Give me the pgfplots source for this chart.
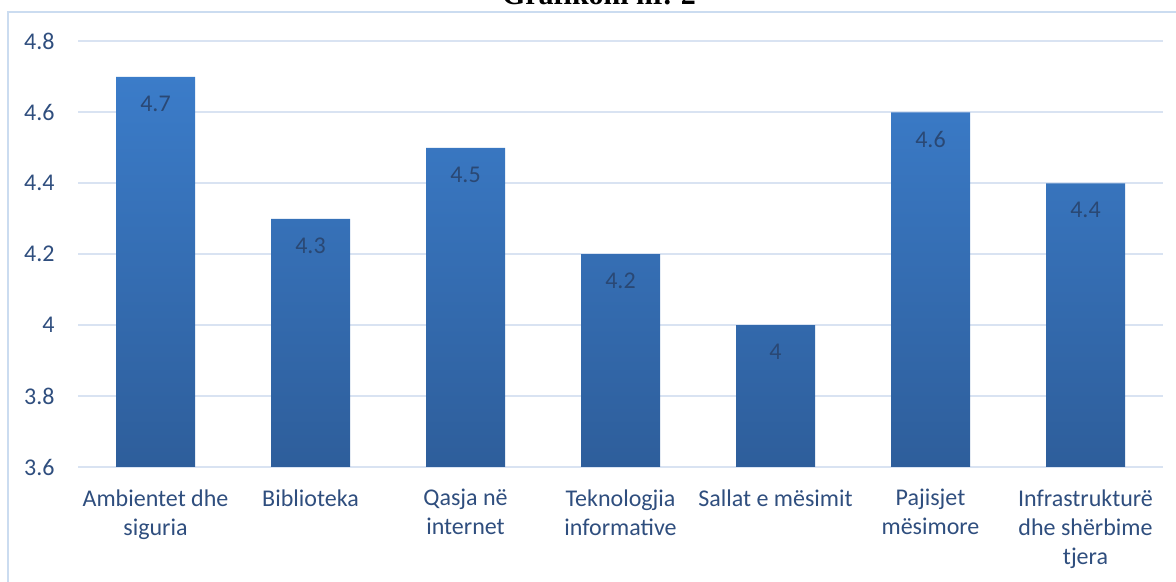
\documentclass[border=0pt]{standalone}
\usepackage{pgfplots}
\pgfplotsset{compat=1.18}
\usepackage{fontspec}
\setmainfont{Carlito}
\newfontfamily\titlefont{Liberation Serif}

\definecolor{tickblue}{HTML}{2F4E7E}
\definecolor{gridblue}{HTML}{D9E3F2}
\definecolor{bartop}{HTML}{3B7CC9}
\definecolor{barbot}{HTML}{2E5E9B}
\definecolor{framecol}{HTML}{CBDCF0}
\definecolor{valcol}{HTML}{2A4874}

\pgfplotsset{/pgf/number format/assume math mode=true}

\begin{document}
\begin{tikzpicture}
\begin{axis}[
    at={(39pt,57.5pt)}, anchor=south west,
    scale only axis,
    width=542.5pt, height=212.75pt,
    ybar, bar width=39.5pt,
    xmin=-0.5, xmax=6.5,
    ymin=3.6, ymax=4.8,
    ytick={3.6,3.8,4,4.2,4.4,4.6,4.8},
    xtick={0,1,2,3,4,5,6},
    xticklabels={Ambientet dhe\\siguria, Biblioteka, Qasja në\\internet,
        Teknologjia\\informative, Sallat e mësimit, Pajisjet\\mësimore,
        Infrastrukturë\\dhe shërbime\\tjera},
    axis line style={draw=none},
    major tick length=0pt,
    ymajorgrids,
    grid style={gridblue, line width=1pt},
    tick label style={font=\fontsize{12}{14.5}\selectfont, text=tickblue},
    yticklabel style={anchor=east, inner sep=0pt, xshift=-11.5pt},
    xticklabel style={align=center, anchor=north, inner sep=0pt, yshift=-11pt},
    nodes near coords,
    every node near coord/.append style={anchor=center, yshift=-13.5pt,
        font=\fontsize{12}{14.5}\selectfont, text=valcol},
]
\addplot[draw=none, top color=bartop, bottom color=barbot] coordinates {
    (0,4.7) (1,4.3) (2,4.5) (3,4.2) (4,4.0) (5,4.6) (6,4.4)
};
\end{axis}
\draw[framecol, line width=0.6pt] (4pt,-1pt) -- (4pt,285pt) -- (590pt,285pt);
\node[font=\titlefont\bfseries\fontsize{15}{18}\selectfont, anchor=base, inner sep=0pt]
    at (299.5pt,288.5pt) {Grafikoni nr. 2};
\pgfresetboundingbox
\useasboundingbox (0,0) rectangle (588pt,291pt);
\end{tikzpicture}
\end{document}
